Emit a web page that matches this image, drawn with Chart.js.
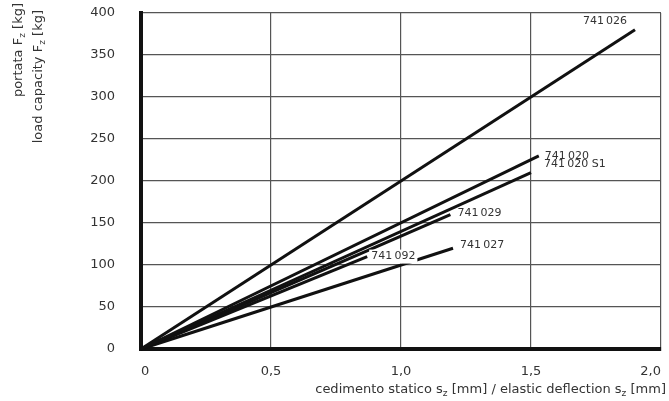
<!DOCTYPE html>
<html>
<head>
<meta charset="utf-8">
<script src="https://cdn.jsdelivr.net/npm/chart.js@4/dist/chart.umd.min.js"></script>
<style>
  html, body { margin: 0; padding: 0; background: #fff; }
  #wrap { width: 669px; height: 401px; position: relative; }
</style>
</head>
<body>
<div id="wrap"><canvas id="grafico"></canvas></div>
<script>
// valori: cedimento [mm] / portata [kg]
const xTickValues = [0, 0.5, 1.0, 1.5, 2.0];
const xTickLabels = ['0', '0,5', '1,0', '1,5', '2,0'];
const yTickValues = [0, 50, 100, 150, 200, 250, 300, 350, 400];

const seriesNames = ['741\u2009026', '741\u2009020', '741\u2009020 S1', '741\u2009029', '741\u2009092', '741\u2009027'];
const defl026 = [0, 1.9],  load026 = [0, 380];
const defl020 = [0, 1.53], load020 = [0, 230];
const defl020S1 = [0, 1.5], load020S1 = [0, 210];
const defl029 = [0, 1.19], load029 = [0, 160];
const defl092 = [0, 0.87], load092 = [0, 110];
const defl027 = [0, 1.2],  load027 = [0, 120];

const seriesX = [defl026, defl020, defl020S1, defl029, defl092, defl027];
const seriesY = [load026, load020, load020S1, load029, load092, load027];

// posizione delle etichette rispetto alla fine della linea
const etichette = [
    { dx: -30, dy: -9, align: 'center' },
    { dx: 6, dy: 0, align: 'left' },
    { dx: 13, dy: -8, align: 'left' },
    { dx: 7, dy: -1, align: 'left' },
    { dx: 4, dy: 0, align: 'left', bg: true },
    { dx: 7, dy: -3, align: 'left' }
];

const FONT = '"DejaVu Sans", sans-serif';
const TEXT = '#333';

// testo con pedice (es. F_z)
function larghezzaRich(ctx, parts, size) {
    let w = 0;
    parts.forEach(p => {
        ctx.font = (p.sub ? size * 0.7 : size) + 'px ' + FONT;
        w += ctx.measureText(p.t).width;
    });
    return w;
}
function disegnaRich(ctx, parts, x, y, size, align) {
    const w = larghezzaRich(ctx, parts, size);
    let cx = align === 'right' ? x - w : (align === 'center' ? x - w / 2 : x);
    ctx.textBaseline = 'middle';
    ctx.textAlign = 'left';
    parts.forEach(p => {
        ctx.font = (p.sub ? size * 0.7 : size) + 'px ' + FONT;
        ctx.fillText(p.t, cx, p.sub ? y + size * 0.3 : y);
        cx += ctx.measureText(p.t).width;
    });
}

const pluginTesti = {
    id: 'testi',
    afterDatasetsDraw(chart) {
        const ctx = chart.ctx;
        ctx.save();
        ctx.fillStyle = TEXT;
        ctx.font = '11px ' + FONT;
        ctx.textBaseline = 'middle';
        chart.data.datasets.forEach((ds, i) => {
            const meta = chart.getDatasetMeta(i);
            const fine = meta.data[meta.data.length - 1];
            const e = etichette[i];
            const x = fine.x + e.dx, y = fine.y + e.dy;
            const w = ctx.measureText(ds.label).width;
            if (e.bg) {
                ctx.fillStyle = '#fff';
                ctx.fillRect(x - 2, y - 7, w + 4, 14);
                ctx.fillStyle = TEXT;
            }
            ctx.textAlign = e.align;
            ctx.fillText(ds.label, x, y);
        });

        // titoli assi
        ctx.save();
        ctx.translate(19, 3);
        ctx.rotate(-Math.PI / 2);
        disegnaRich(ctx, [{ t: 'portata F' }, { t: 'z', sub: true }, { t: ' [kg]' }], 0, 0, 13, 'right');
        ctx.restore();
        ctx.save();
        ctx.translate(39, 10);
        ctx.rotate(-Math.PI / 2);
        disegnaRich(ctx, [{ t: 'load capacity F' }, { t: 'z', sub: true }, { t: ' [kg]' }], 0, 0, 13, 'right');
        ctx.restore();

        ctx.fillStyle = TEXT;
        disegnaRich(ctx, [
            { t: 'cedimento statico s' }, { t: 'z', sub: true }, { t: ' [mm] / elastic deflection s' },
            { t: 'z', sub: true }, { t: ' [mm]' }
        ], 666, 390, 13, 'right');
        ctx.restore();
    }
};

const datasets = seriesNames.map((nome, i) => ({
    label: nome,
    data: seriesX[i].map((x, k) => ({ x: x, y: seriesY[i][k] })),
    showLine: true,
    borderColor: '#111',
    borderWidth: 3,
    pointRadius: 0,
    fill: false,
    clip: false
}));

new Chart(document.getElementById('grafico'), {
    type: 'scatter',
    data: { datasets: datasets },
    plugins: [pluginTesti],
    options: {
        responsive: true,
        maintainAspectRatio: false,
        animation: false,
        layout: { padding: { left: 0, right: 8, top: 13, bottom: 0 } },
        plugins: {
            legend: { display: false },
            tooltip: { enabled: false }
        },
        scales: {
            x: {
                type: 'linear',
                min: 0,
                max: 2,
                afterBuildTicks: (scale) => { scale.ticks = xTickValues.map(v => ({ value: v })); },
                afterFit: (scale) => {
                    scale.height = 52;
                    scale.paddingLeft = 0;
                    scale.paddingRight = 0;
                },
                ticks: {
                    callback: (v) => xTickLabels[xTickValues.indexOf(v)],
                    color: TEXT,
                    font: { family: FONT, size: 13 },
                    padding: 15,
                    align: 'inner',
                    maxRotation: 0
                },
                grid: { color: '#555', lineWidth: 1.2, drawTicks: false },
                border: { color: '#111', width: 4 }
            },
            y: {
                type: 'linear',
                min: 0,
                max: 400,
                afterBuildTicks: (scale) => { scale.ticks = yTickValues.map(v => ({ value: v })); },
                afterFit: (scale) => {
                    scale.width = 141;
                    scale.paddingTop = 0;
                    scale.paddingBottom = 0;
                },
                ticks: {
                    color: TEXT,
                    font: { family: FONT, size: 13 },
                    padding: 26
                },
                grid: { color: '#555', lineWidth: 1.2, drawTicks: false },
                border: { color: '#111', width: 4 }
            }
        }
    }
});
</script>
</body>
</html>
